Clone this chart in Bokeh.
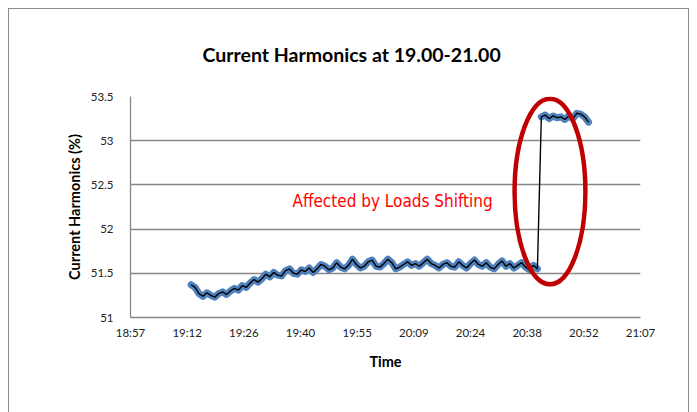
from bokeh.plotting import figure
from bokeh.models import FixedTicker, Label, Range1d, CustomJSTickFormatter
from bokeh.embed import file_html
from bokeh.resources import INLINE
import numpy as np

# ---------------- data ----------------
title_text = "Current Harmonics at 19.00-21.00"
x_axis_title = "Time"
y_axis_title = "Current Harmonics (%)"
annotation_text = "Affected by Loads Shifting"

# axis ticks (x axis in fractions of a day, as in the spreadsheet)
x_tick_days = [0.79, 0.80, 0.81, 0.82, 0.83, 0.84, 0.85, 0.86, 0.87, 0.88]
x_tick_labels = ["18:57", "19:12", "19:26", "19:40", "19:55",
                 "20:09", "20:24", "20:38", "20:52", "21:07"]
y_ticks = [51.0, 51.5, 52.0, 52.5, 53.0, 53.5]
y_tick_labels = ["51", "51.5", "52", "52.5", "53", "53.5"]

# measurements: one sample per minute starting 19:13
sample_start_minute = 19 * 60 + 13
sample_step_minutes = 1
harmonics = [
    51.37, 51.34, 51.27, 51.24, 51.28, 51.25, 51.23, 51.27, 51.29, 51.26,
    51.30, 51.33, 51.31, 51.36, 51.34, 51.39, 51.43, 51.40, 51.44, 51.49,
    51.46, 51.51, 51.48, 51.47, 51.53, 51.55, 51.50, 51.49, 51.54, 51.52,
    51.56, 51.51, 51.55, 51.60, 51.58, 51.54, 51.56, 51.62, 51.57, 51.55,
    51.59, 51.66, 51.60, 51.56, 51.58, 51.63, 51.65, 51.58, 51.57, 51.61,
    51.66, 51.62, 51.55, 51.57, 51.60, 51.63, 51.59, 51.61, 51.58, 51.62,
    51.66, 51.61, 51.59, 51.56, 51.60, 51.62, 51.58, 51.57, 51.63, 51.59,
    51.56, 51.61, 51.65, 51.60, 51.58, 51.62, 51.57, 51.55, 51.60, 51.64,
    51.58, 51.61, 51.56, 51.59, 51.62, 51.57, 51.54, 51.59, 51.55,
    53.27, 53.29, 53.25, 53.28, 53.26, 53.27, 53.24, 53.28, 53.25, 53.31,
    53.30, 53.27, 53.21,
]

# annotation placement (minutes of day / percent)
note_x, note_y = 1204.2, 52.32
ring_x, ring_y, ring_w, ring_h = 1244.2, 52.425, 18.0, 2.10

# ---------------- derived ----------------
minutes = np.array([sample_start_minute + i * sample_step_minutes for i in range(len(harmonics))], dtype=float)
vals = np.array(harmonics)
jump = int(np.argmax(np.abs(np.diff(vals)))) + 1

x_tick_pos = [d * 1440 for d in x_tick_days]

FONT = "Lato"
GRID = "#878787"

p = figure(width=681, height=404, output_backend="svg", toolbar_location=None,
           x_range=Range1d(x_tick_pos[0], x_tick_pos[-1]),
           y_range=Range1d(y_ticks[0], y_ticks[-1]),
           min_border_left=121, min_border_right=50,
           min_border_top=87, min_border_bottom=96)
p.styles = {"margin": "8px 0 0 8px",
            "border-top": "1px solid #8c8c8c", "border-left": "1px solid #8c8c8c",
            "border-right": "1px solid #8c8c8c", "box-sizing": "border-box"}
p.outline_line_color = None
p.background_fill_color = "white"
p.border_fill_color = "white"

p.title.text = title_text
p.title.text_font = FONT
p.title.text_font_size = "19.5px"
p.title.text_font_style = "bold"
p.title.text_color = "black"
p.title.align = "left"
p.title.offset = 72
p.title.standoff = 62

# x axis
p.xaxis.ticker = FixedTicker(ticks=x_tick_pos)
p.xaxis.formatter = CustomJSTickFormatter(
    args=dict(pos=x_tick_pos, labels=x_tick_labels),
    code="""let b=0, d=1e9; for (let i=0;i<pos.length;i++){const e=Math.abs(pos[i]-tick); if(e<d){d=e;b=i;}} return labels[b];""")
p.xaxis.axis_label = x_axis_title
p.yaxis.axis_label = y_axis_title

# y axis
p.yaxis.ticker = FixedTicker(ticks=y_ticks)
p.yaxis.formatter = CustomJSTickFormatter(
    args=dict(pos=y_ticks, labels=y_tick_labels),
    code="""let b=0, d=1e9; for (let i=0;i<pos.length;i++){const e=Math.abs(pos[i]-tick); if(e<d){d=e;b=i;}} return labels[b];""")

for ax in (p.xaxis[0], p.yaxis[0]):
    ax.axis_line_color = GRID
    ax.axis_line_width = 1.3
    ax.major_tick_line_color = None
    ax.minor_tick_line_color = None
    ax.major_tick_out = 0
    ax.major_tick_in = 0
    ax.major_label_text_font = FONT
    ax.major_label_text_font_size = "11.5px"
    ax.major_label_text_color = "#222222"
    ax.axis_label_text_font = FONT
    ax.axis_label_text_font_size = "14.5px"
    ax.axis_label_text_font_style = "bold"
    ax.axis_label_text_color = "black"

p.xaxis.major_label_standoff = 8
p.xaxis.axis_label_standoff = 11
p.yaxis.major_label_standoff = 17
p.yaxis.axis_label_standoff = 5

p.xgrid.grid_line_color = None
p.ygrid.ticker = FixedTicker(ticks=y_ticks)
p.ygrid.grid_line_color = GRID
p.ygrid.grid_line_width = 1.3

# series: thick blue band (markers look) and thin black line
BLUE = "#4F81BD"
p.line(minutes[:jump], vals[:jump], line_color=BLUE, line_width=7, line_join="round", line_cap="round")
p.line(minutes[jump:], vals[jump:], line_color=BLUE, line_width=7, line_join="round", line_cap="round")
p.line(minutes, vals, line_color="black", line_width=1.4)

# annotation ring and text
p.ellipse(x=[ring_x], y=[ring_y], width=[ring_w], height=[ring_h],
          fill_color=None, line_color="#C00000", line_width=4.5)
p.add_layout(Label(x=note_x, y=note_y, text=annotation_text,
                   text_align="center", text_baseline="middle",
                   text_color="#FF0000", text_font="DejaVu Sans Condensed",
                   text_font_size="17px"))

open("out.html", "w").write(file_html(p, INLINE))
